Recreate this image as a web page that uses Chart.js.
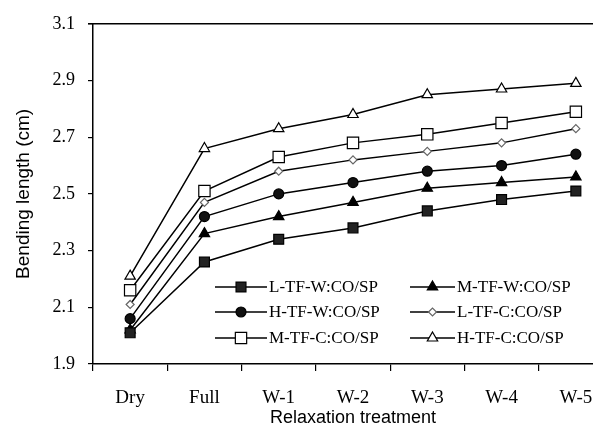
<!DOCTYPE html>
<html>
<head>
<meta charset="utf-8">
<script src="https://cdn.jsdelivr.net/npm/chart.js@4/dist/chart.umd.min.js"></script>
<style>
    html, body { margin: 0; padding: 0; background: #fff; overflow: hidden; }
    #wrap { width: 640px; height: 429px; }
</style>
</head>
<body>
<div id="wrap"><canvas id="bendingChart" width="640" height="429"></canvas></div>
<script>
// Bending length (cm) per relaxation treatment
const treatments = ['Dry', 'Full', 'W-1', 'W-2', 'W-3', 'W-4', 'W-5'];
const yTicks = [1.9, 2.1, 2.3, 2.5, 2.7, 2.9, 3.1];
const seriesNames = ['L-TF-W:CO/SP', 'M-TF-W:CO/SP', 'H-TF-W:CO/SP', 'L-TF-C:CO/SP', 'M-TF-C:CO/SP', 'H-TF-C:CO/SP'];

const lTfW = [2.01, 2.26, 2.34, 2.38, 2.44, 2.48, 2.51];
const mTfW = [2.02, 2.36, 2.42, 2.47, 2.52, 2.54, 2.56];
const hTfW = [2.06, 2.42, 2.50, 2.54, 2.58, 2.60, 2.64];
const lTfC = [2.11, 2.47, 2.58, 2.62, 2.65, 2.68, 2.73];
const mTfC = [2.16, 2.51, 2.63, 2.68, 2.71, 2.75, 2.79];
const hTfC = [2.21, 2.66, 2.73, 2.78, 2.85, 2.87, 2.89];

const serifFont = "'Liberation Serif', 'Times New Roman', serif";
const sansFont = "'Liberation Sans', Arial, sans-serif";

// marker look for each series
const markers = [
    { pointStyle: 'rect', radius: 7, fill: '#222', stroke: '#000' },
    { pointStyle: 'triangle', radius: 6, fill: '#000', stroke: '#000' },
    { pointStyle: 'circle', radius: 5, fill: '#111', stroke: '#000' },
    { pointStyle: 'rectRot', radius: 4, fill: '#fff', stroke: '#666' },
    { pointStyle: 'rect', radius: 8, fill: '#fff', stroke: '#000' },
    { pointStyle: 'triangle', radius: 6, fill: '#fff', stroke: '#000' }
];

const allSeries = [lTfW, mTfW, hTfW, lTfC, mTfC, hTfC];

const datasets = allSeries.map((values, i) => ({
    label: seriesNames[i],
    data: values,
    borderColor: '#000',
    borderWidth: 1.5,
    pointStyle: markers[i].pointStyle,
    pointRadius: markers[i].radius,
    pointBackgroundColor: markers[i].fill,
    pointBorderColor: markers[i].stroke,
    pointBorderWidth: 1.2,
    fill: false,
    tension: 0
}));

// legend drawn inside the plot, plus the top frame line
const framePlugin = {
    id: 'frameAndLegend',
    afterDraw(chart) {
        const ctx = chart.ctx;
        const area = chart.chartArea;
        ctx.save();
        ctx.strokeStyle = '#000';
        ctx.lineWidth = 1.5;
        ctx.beginPath();
        ctx.moveTo(area.left - 5, area.top);
        ctx.lineTo(chart.width, area.top);
        ctx.stroke();

        const rowY = [287, 312, 338];
        const cols = [{ x0: 215, x1: 267, tx: 269 }, { x0: 410, x1: 455, tx: 457 }];
        ctx.font = '17px ' + serifFont;
        ctx.textBaseline = 'middle';
        ctx.textAlign = 'left';
        seriesNames.forEach((name, i) => {
            const y = rowY[Math.floor(i / 2)];
            const c = cols[i % 2];
            ctx.strokeStyle = '#000';
            ctx.lineWidth = 1.5;
            ctx.beginPath();
            ctx.moveTo(c.x0, y);
            ctx.lineTo(c.x1, y);
            ctx.stroke();

            const m = markers[i];
            ctx.fillStyle = m.fill;
            ctx.strokeStyle = m.stroke;
            ctx.lineWidth = 1.2;
            Chart.helpers.drawPoint(ctx, {
                pointStyle: m.pointStyle,
                radius: m.radius,
                rotation: 0,
                borderWidth: 1.2
            }, (c.x0 + c.x1) / 2, y);

            ctx.fillStyle = '#000';
            ctx.fillText(name, c.tx, y + 1);
        });
        ctx.restore();
    }
};

const ctx = document.getElementById('bendingChart').getContext('2d');
const chart = new Chart(ctx, {
    type: 'line',
    data: { labels: treatments, datasets: datasets },
    options: {
        responsive: false,
        animation: false,
        layout: { padding: { top: 16, right: 27, left: 0, bottom: 0 } },
        plugins: {
            legend: { display: false },
            tooltip: { enabled: false }
        },
        scales: {
            x: {
                offset: true,
                grid: {
                    offset: true,
                    drawOnChartArea: false,
                    drawTicks: true,
                    tickLength: 7,
                    color: '#000',
                    lineWidth: 1.2
                },
                border: { display: true, color: '#000', width: 1.5 },
                ticks: {
                    color: '#000',
                    padding: 16,
                    maxRotation: 0,
                    autoSkip: false,
                    font: { family: serifFont, size: 19 }
                },
                title: {
                    display: true,
                    text: 'Relaxation treatment',
                    color: '#000',
                    padding: { top: 0, bottom: 0 },
                    font: { family: sansFont, size: 18 }
                },
                afterFit(scale) { scale.height = 65; }
            },
            y: {
                min: 1.9,
                max: 3.1,
                afterBuildTicks(scale) {
                    scale.ticks = yTicks.map(v => ({ value: v }));
                },
                grid: {
                    drawOnChartArea: false,
                    drawTicks: true,
                    tickLength: 5,
                    color: '#000',
                    lineWidth: 1.2
                },
                border: { display: true, color: '#000', width: 1.5 },
                ticks: {
                    color: '#000',
                    padding: 13,
                    font: { family: serifFont, size: 18 },
                    callback: (v) => Number(v).toFixed(1)
                },
                title: {
                    display: true,
                    text: 'Bending length (cm)',
                    color: '#000',
                    padding: { top: 12, bottom: 0 },
                    font: { family: sansFont, size: 19 }
                },
                afterFit(scale) { scale.width = 93; }
            }
        }
    },
    plugins: [framePlugin]
});
</script>
</body>
</html>
